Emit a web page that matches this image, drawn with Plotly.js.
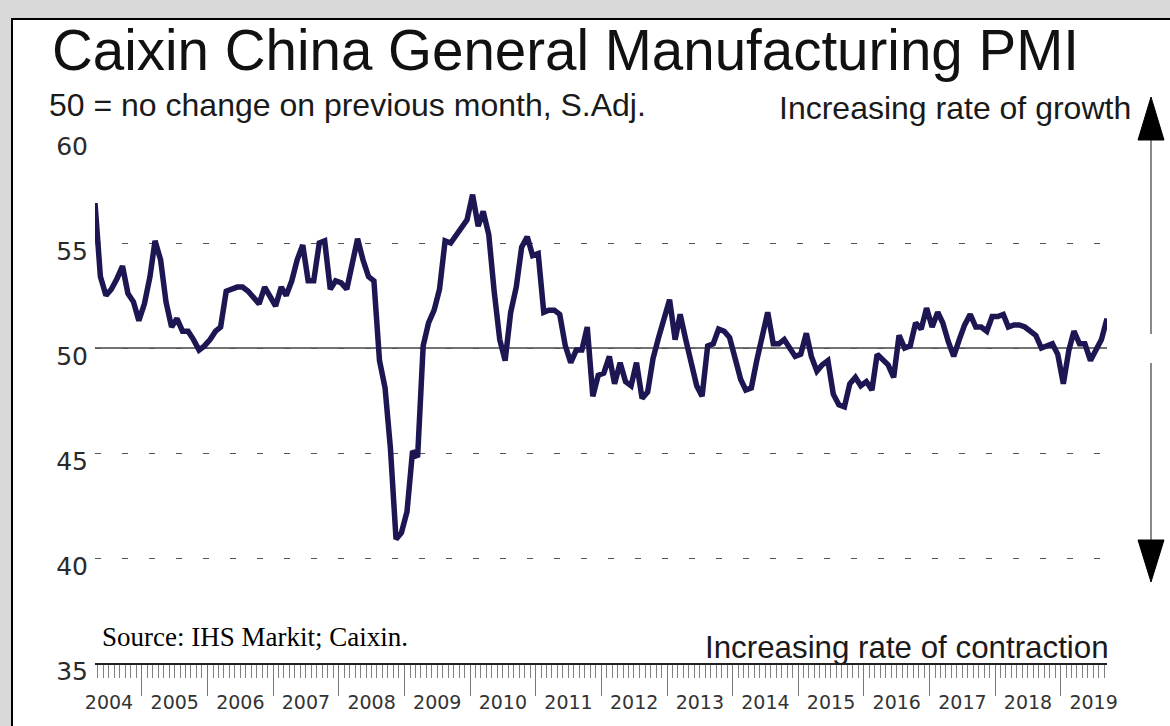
<!DOCTYPE html>
<html>
<head>
<meta charset="utf-8">
<script src="https://cdn.plot.ly/plotly-3.0.1.min.js"></script>
<style>
html,body{margin:0;padding:0;background:#d9d9d9;}
#chart{width:1170px;height:726px;}
</style>
</head>
<body>
<div id="chart"></div>
<script>
// Caixin China General Manufacturing PMI (monthly, seasonally adjusted)
const pmi2004 = [56.9, 53.4, 52.5, 52.8, 53.3, 53.9, 52.6, 52.2, 51.3]; // Apr-Dec
const pmi2005 = [52.1, 53.4, 55.1, 54.2, 52.2, 51.0, 51.4, 50.8, 50.8, 50.4, 49.9, 50.1];
const pmi2006 = [50.4, 50.8, 51.0, 52.7, 52.8, 52.9, 52.9, 52.7, 52.4, 52.1, 52.9, 52.4];
const pmi2007 = [52.0, 52.9, 52.5, 53.2, 54.2, 54.9, 53.2, 53.2, 55.0, 55.1, 52.8, 53.2];
const pmi2008 = [53.1, 52.8, 54.0, 55.2, 54.2, 53.4, 53.2, 49.4, 48.1, 45.2, 40.9, 41.2];
const pmi2009 = [42.2, 45.1, 44.8, 50.1, 51.2, 51.8, 52.8, 55.1, 55.0, 55.4, 55.7, 56.1];
const pmi2010 = [57.3, 55.8, 56.5, 55.4, 52.7, 50.4, 49.4, 51.7, 52.9, 54.8, 55.3, 54.4];
const pmi2011 = [54.5, 51.7, 51.8, 51.8, 51.6, 50.1, 49.3, 49.9, 49.9, 51.0, 47.7, 48.7];
const pmi2012 = [48.8, 49.6, 48.3, 49.3, 48.4, 48.2, 49.3, 47.6, 47.9, 49.5, 50.5, 51.5];
const pmi2013 = [52.3, 50.4, 51.6, 50.4, 49.2, 48.2, 47.7, 50.1, 50.2, 50.9, 50.8, 50.5];
const pmi2014 = [49.5, 48.5, 48.0, 48.1, 49.4, 50.7, 51.7, 50.2, 50.2, 50.4, 50.0, 49.6];
const pmi2015 = [49.7, 50.7, 49.6, 48.9, 49.2, 49.4, 47.8, 47.3, 47.2, 48.3, 48.6, 48.2];
const pmi2016 = [48.4, 48.0, 49.7, 49.4, 49.2, 48.6, 50.6, 50.0, 50.1, 51.2, 50.9, 51.9];
const pmi2017 = [51.0, 51.7, 51.2, 50.3, 49.6, 50.4, 51.1, 51.6, 51.0, 51.0, 50.8, 51.5];
const pmi2018 = [51.5, 51.6, 51.0, 51.1, 51.1, 51.0, 50.8, 50.6, 50.0, 50.1, 50.2, 49.7];
const pmi2019 = [48.3, 49.9, 50.8, 50.2, 50.2, 49.4, 49.9, 50.4, 51.4]; // Jan-Sep

const seriesByYear = [
  [2004, 4, pmi2004], [2005, 1, pmi2005], [2006, 1, pmi2006], [2007, 1, pmi2007],
  [2008, 1, pmi2008], [2009, 1, pmi2009], [2010, 1, pmi2010], [2011, 1, pmi2011],
  [2012, 1, pmi2012], [2013, 1, pmi2013], [2014, 1, pmi2014], [2015, 1, pmi2015],
  [2016, 1, pmi2016], [2017, 1, pmi2017], [2018, 1, pmi2018], [2019, 1, pmi2019]
];

const yTickVals = [35, 40, 45, 50, 55, 60];

const titleText = 'Caixin China General Manufacturing PMI';
const subtitleText = '50 = no change on previous month, S.Adj.';
const growthText = 'Increasing rate of growth';
const contractionText = 'Increasing rate of contraction';
const sourceText = 'Source: IHS Markit; Caixin.';

const xs = [], ys = [];
seriesByYear.forEach(([yr, m0, vals]) => {
  vals.forEach((v, i) => {
    const m = m0 + i;
    xs.push(yr + '-' + String(m).padStart(2, '0') + '-15');
    ys.push(v);
  });
});

// pixel helpers for layout placement
const W = 1170, Hh = 726;
const L = 95, R = 1107, T = 138, B = 663;
const xp = px => (px - L) / (R - L);
const yp = py => (B - py) / (B - T);

const sans = 'Liberation Sans, Arial, sans-serif';
const wide = 'DejaVu Sans, Verdana, sans-serif';

const trace = {
  type: 'scatter', mode: 'lines', x: xs, y: ys,
  line: {color: '#1c1652', width: 5.5},
  hoverinfo: 'x+y'
};

const shapes = [
  // white framed panel
  {type: 'rect', xref: 'paper', yref: 'paper', x0: xp(12), x1: xp(1185), y0: yp(745), y1: yp(19),
   fillcolor: '#ffffff', line: {color: '#000', width: 2}, layer: 'below'},
  // solid 50 line
  {type: 'line', xref: 'paper', yref: 'y', x0: 0, x1: 1, y0: 50, y1: 50,
   line: {color: '#444', width: 1.5}, layer: 'below'},
  // up arrow
  {type: 'line', xref: 'paper', yref: 'paper', x0: xp(1151), x1: xp(1151), y0: yp(138), y1: yp(334),
   line: {color: '#8a8a8a', width: 2}},
  {type: 'path', xref: 'paper', yref: 'paper',
   path: `M ${xp(1151)},${yp(97)} L ${xp(1138)},${yp(140)} L ${xp(1164)},${yp(140)} Z`,
   fillcolor: '#000', line: {color: '#000', width: 1}},
  // down arrow
  {type: 'line', xref: 'paper', yref: 'paper', x0: xp(1151), x1: xp(1151), y0: yp(363), y1: yp(542),
   line: {color: '#8a8a8a', width: 2}},
  {type: 'path', xref: 'paper', yref: 'paper',
   path: `M ${xp(1138)},${yp(540)} L ${xp(1164)},${yp(540)} L ${xp(1151)},${yp(582)} Z`,
   fillcolor: '#000', line: {color: '#000', width: 1}}
];

const annotations = [
  {text: subtitleText, xref: 'paper', yref: 'paper', x: xp(47), y: yp(105), xanchor: 'left', yanchor: 'middle',
   showarrow: false, font: {family: sans, size: 32, color: '#1a1a1a'}},
  {text: growthText, xref: 'paper', yref: 'paper', x: xp(1133), y: yp(108), xanchor: 'right', yanchor: 'middle',
   showarrow: false, font: {family: sans, size: 32, color: '#1a1a1a'}},
  {text: contractionText, xref: 'paper', yref: 'paper', x: xp(1111), y: yp(647), xanchor: 'right', yanchor: 'middle',
   showarrow: false, font: {family: sans, size: 31.3, color: '#1a1a1a'}},
  {text: sourceText, xref: 'paper', yref: 'paper', x: xp(100), y: yp(637), xanchor: 'left', yanchor: 'middle',
   showarrow: false, font: {family: 'Liberation Serif, Times New Roman, serif', size: 27, color: '#000'}}
];

const layout = {
  width: W, height: Hh, autosize: false, showlegend: false,
  paper_bgcolor: '#d9d9d9', plot_bgcolor: 'rgba(0,0,0,0)',
  margin: {l: L, r: W - R, t: T, b: Hh - B, pad: 0},
  title: {text: titleText, xref: 'container', yref: 'container', x: 52 / W, xanchor: 'left',
          y: 1 - 50 / Hh, yanchor: 'middle', font: {family: sans, size: 56.5, color: '#111'}},
  xaxis: {
    type: 'date', range: ['2004-04-15', '2019-09-15'],
    showgrid: false, zeroline: false, showline: true, linecolor: '#222', linewidth: 2,
    ticks: 'outside', tick0: '2004-01-01', dtick: 'M12', ticklen: 31, tickwidth: 1, tickcolor: '#777',
    ticklabelmode: 'period', tickformat: '%Y', ticklabelstandoff: -10,
    tickfont: {family: wide, size: 19, color: '#333'},
    minor: {ticks: 'outside', tick0: '2004-01-01', dtick: 'M1', ticklen: 13, tickwidth: 1, tickcolor: '#808080', showgrid: false}
  },
  yaxis: {
    range: [35, 60], tickmode: 'array', tickvals: yTickVals,
    showgrid: true, gridcolor: '#555', gridwidth: 1, griddash: '6px,21px',
    zeroline: false, showline: false, ticks: '',
    ticklabelshift: 8, ticklabelstandoff: 6,
    tickfont: {family: wide, size: 25, color: '#2a2a2a'}
  },
  shapes: shapes,
  annotations: annotations
};

Plotly.newPlot('chart', [trace], layout, {displayModeBar: false, staticPlot: false});
</script>
</body>
</html>
